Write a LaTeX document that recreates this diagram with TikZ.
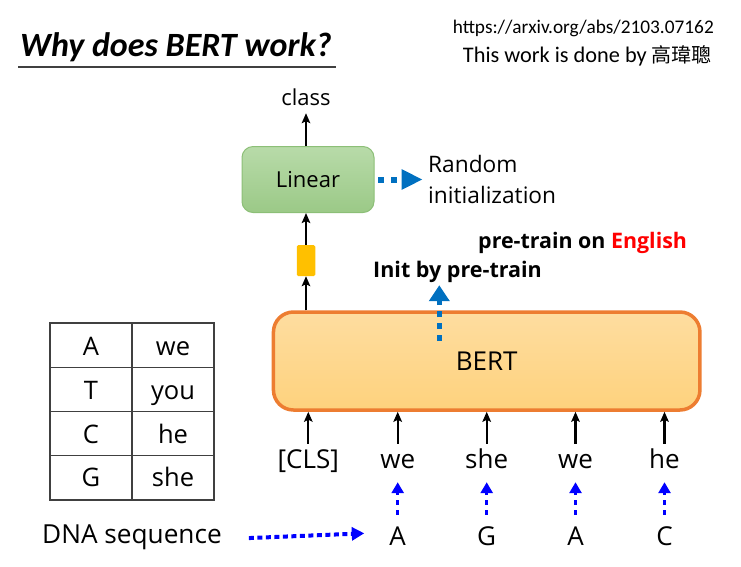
\documentclass[tikz,border=0pt]{standalone}
\usepackage{fontspec}
\setmainfont{Open Sans}
\newfontfamily\titlefont{Carlito}
\newfontfamily\cjk{Noto Sans CJK TC}
\usetikzlibrary{arrows.meta}
\definecolor{bertborder}{HTML}{ED7D31}
\definecolor{berttop}{HTML}{FEDDA0}
\definecolor{bertbot}{HTML}{FED27D}
\definecolor{lintop}{HTML}{B8DBA9}
\definecolor{linbot}{HTML}{9BC987}
\definecolor{linborder}{HTML}{8CBF77}
\definecolor{gold}{HTML}{FFC000}
\definecolor{initblue}{HTML}{0070C0}
\definecolor{tablegray}{HTML}{404040}
\definecolor{engred}{HTML}{FF0000}
\newcommand{\fs}[1]{\fontsize{#1pt}{#1pt}\selectfont}
\tikzset{
  blackarrow/.style={line width=2.2pt,-{Stealth[length=10pt,width=8.5pt,inset=2pt]}},
  bigdots/.style={initblue,line width=6pt,dash pattern=on 5.5pt off 7.5pt},
  smalldots/.style={blue,line width=3.5pt,dash pattern=on 5pt off 5pt,-{Triangle[length=11pt,width=12pt]}},
  hdots/.style={blue,line width=4pt,dash pattern=on 5pt off 3.5pt,-{Triangle[length=12.5pt,width=13pt]}},
  tok/.style={inner sep=0pt,anchor=base,text height=24pt,text depth=14pt,font=\fs{26}},
  letter/.style={inner sep=0pt,anchor=base,text height=30pt,text depth=2pt,font=\fs{26}},
  cell/.style={inner sep=0pt,anchor=base,font=\fs{25.5}},
}
\begin{document}
\begin{tikzpicture}[x=1pt,y=-1pt]
\useasboundingbox (0,0) rectangle (741,566);
% title
\node[inner sep=0pt,anchor=base west] (title) at (20,56) {\titlefont\bfseries\itshape\fs{34}Why does BERT work?};
\draw[tablegray,line width=1.5pt] (18,67) -- (336,67);
\node[inner sep=0pt,anchor=base east] (url) at (714,33) {\titlefont\fs{19.3}https://arxiv.org/abs/2103.07162};
\node[inner sep=0pt,anchor=base east] (who) at (712,62) {\titlefont\fs{22.3}This work is done by {\cjk\fs{20}高瑋聰}};

% boxes
\node[draw=bertborder,line width=3.5pt,rounded corners=20pt,top color=berttop,bottom color=bertbot,
      minimum width=426.5pt,minimum height=98pt,inner sep=0pt,font=\fs{26}] (bert) at (486.7,361) {BERT};
\node[draw=linborder,line width=1pt,rounded corners=11pt,top color=lintop,bottom color=linbot,
      minimum width=132pt,minimum height=66pt,inner sep=0pt,font=\fs{22}] (lin) at (308,179.5) {Linear};
\node[fill=gold,rounded corners=1.5pt,minimum width=18.5pt,minimum height=31pt,inner sep=0pt] (yel) at (306,260.5) {};
\node[inner sep=0pt,anchor=base,text depth=8pt,font=\fs{22}] (cls) at (306,105) {class};

% top arrows
\draw[blackarrow] (yel |- lin.north) -- (cls.south);
\draw[blackarrow] (yel.north) -- (yel |- lin.south);
\draw[blackarrow] (yel |- bert.north) -- (yel.south);

% random init
\node[inner sep=0pt,anchor=west,align=left,font=\fs{22.7}] (rand) at (428,179.5) {Random\\[8pt]initialization};
\draw[bigdots,-{Triangle[length=21pt,width=19pt]}] ([xshift=3.7pt]lin.east) -- ([xshift=-5.3pt]rand.west);

% pre-train texts
\node[inner sep=0pt,anchor=base west,font=\bfseries\fs{21.4}] (pre) at (478,248) {pre-train on \textcolor{engred}{English}};
\node[inner sep=0pt,anchor=base west,text depth=8pt,font=\bfseries\fs{21.5}] (init) at (373,277) {Init by pre-train};
\coordinate (initstart) at (439.3,341);
\draw[bigdots,line width=5.5pt,dash pattern=on 6pt off 6pt,-{Triangle[length=16pt,width=20pt]}] (initstart) -- (initstart |- init.south);

% tokens
\node[tok] (t0) at (308.3,468) {[CLS]};
\node[tok] (t1) at (397.7,468) {we};
\node[tok] (t2) at (486.7,468) {she};
\node[tok] (t3) at (575.5,468) {we};
\node[tok] (t4) at (664.5,468) {he};
\foreach \i in {0,...,4}{\draw[blackarrow] (t\i.north) -- (t\i.north |- bert.south);}

% letters
\node[letter] (l1) at (397.7,545) {A};
\node[letter] (l2) at (486.7,545) {G};
\node[letter] (l3) at (575.5,545) {A};
\node[letter] (l4) at (664.5,545) {C};
\foreach \i in {1,...,4}{\draw[smalldots] (l\i.north) -- (t\i.south);}

\node[inner sep=0pt,anchor=base west,font=\fs{26.2}] (dna) at (42,543.3) {DNA sequence};
\draw[hdots] ([xshift=27pt,yshift=-1pt]dna.east) -- ([xshift=-25pt]l1.west |- 0,533.3);

% table
\draw[tablegray,line width=1.2pt] (50,323) rectangle (214,500);
\draw[tablegray,line width=1.2pt] (132,323) -- (132,500);
\foreach \yy in {367.3,411.7,455.7}{\draw[tablegray,line width=1.2pt] (50,\yy) -- (214,\yy);}
\node[cell] (ca) at (91,355) {A};
\node[cell] (ct) at (91,399.3) {T};
\node[cell] (cc) at (91,443.3) {C};
\node[cell] (cg) at (91,486.7) {G};
\node[cell] (cwe) at (173,355) {we};
\node[cell] (cyou) at (173,399.3) {you};
\node[cell] (che) at (173,443.3) {he};
\node[cell] (cshe) at (173,486.7) {she};
\end{tikzpicture}
\end{document}
